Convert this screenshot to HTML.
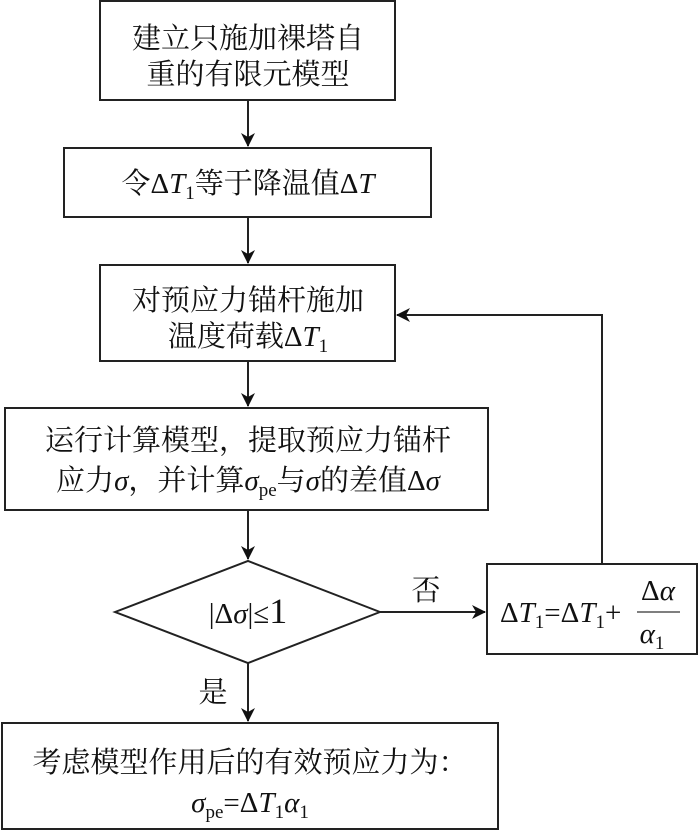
<!DOCTYPE html>
<html><head><meta charset="utf-8"><style>
html,body{margin:0;padding:0;background:#fff;}
svg{display:block;}
text{font-family:"Liberation Serif","Noto Serif CJK SC",serif;font-size:29px;fill:#111;}
.i{font-style:italic;}
</style></head><body>
<svg width="700" height="831" viewBox="0 0 700 831" xmlns="http://www.w3.org/2000/svg">
<defs><marker id="a" markerWidth="14" markerHeight="14" refX="13" refY="7" orient="auto" markerUnits="userSpaceOnUse"><path d="M0,0 L14,7 L0,14 L4,7 Z" fill="#111"/></marker></defs>
<g fill="none" stroke="#222" stroke-width="2">
<rect x="100" y="1" width="295" height="99"/>
<rect x="64" y="148" width="367" height="69"/>
<rect x="100" y="265" width="295" height="96"/>
<rect x="5" y="408" width="483" height="102"/>
<polygon points="115,612 248,561 380,612 248,663"/>
<rect x="487" y="564" width="210" height="90"/>
<rect x="2" y="723" width="496" height="106"/>
<line x1="248" y1="100" x2="248" y2="146" marker-end="url(#a)"/>
<line x1="248" y1="217" x2="248" y2="263" marker-end="url(#a)"/>
<line x1="248" y1="361" x2="248" y2="406" marker-end="url(#a)"/>
<line x1="248" y1="510" x2="248" y2="559" marker-end="url(#a)"/>
<line x1="248" y1="663" x2="248" y2="721" marker-end="url(#a)"/>
<line x1="380" y1="612" x2="485" y2="612" marker-end="url(#a)"/>
<polyline points="602,564 602,315 397,315" marker-end="url(#a)"/>
</g>
<text x="248" y="48" text-anchor="middle">建立只施加裸塔自</text>
<text x="248" y="84" text-anchor="middle">重的有限元模型</text>
<text x="248" y="193" text-anchor="middle">令Δ<tspan class="i">T</tspan><tspan font-size="19" dy="6">1</tspan><tspan dy="-6">等于降温值Δ</tspan><tspan class="i">T</tspan></text>
<text x="248" y="310" text-anchor="middle">对预应力锚杆施加</text>
<text x="248" y="346" text-anchor="middle">温度荷载Δ<tspan class="i">T</tspan><tspan font-size="19" dy="6">1</tspan></text>
<text x="248" y="450" text-anchor="middle">运行计算模型，提取预应力锚杆</text>
<text x="248" y="490" text-anchor="middle">应力<tspan class="i">σ</tspan>，并计算<tspan class="i">σ</tspan><tspan font-size="19" dy="6">pe</tspan><tspan dy="-6">与</tspan><tspan class="i">σ</tspan>的差值Δ<tspan class="i">σ</tspan></text>
<text x="248" y="623" text-anchor="middle">|Δ<tspan class="i">σ</tspan>|≤<tspan font-size="36">1</tspan></text>
<text x="426" y="600" text-anchor="middle" font-size="26">否</text>
<text x="213" y="702" text-anchor="middle" font-size="26">是</text>
<text x="500" y="622">Δ<tspan class="i">T</tspan><tspan font-size="19" dy="6">1</tspan><tspan dy="-6">=Δ</tspan><tspan class="i">T</tspan><tspan font-size="19" dy="6">1</tspan><tspan dy="-6">+</tspan></text>
<line x1="637" y1="612" x2="680" y2="612" stroke="#555" stroke-width="1.5"/>
<text x="658" y="600" text-anchor="middle">Δ<tspan class="i">α</tspan></text>
<text x="652" y="643" text-anchor="middle"><tspan class="i">α</tspan><tspan font-size="19" dy="6">1</tspan></text>
<text x="250" y="772" text-anchor="middle">考虑模型作用后的有效预应力为：</text>
<text x="250" y="812" text-anchor="middle"><tspan class="i">σ</tspan><tspan font-size="19" dy="6">pe</tspan><tspan dy="-6">=Δ</tspan><tspan class="i">T</tspan><tspan font-size="19" dy="6">1</tspan><tspan class="i" dy="-6">α</tspan><tspan font-size="19" dy="6">1</tspan></text>
</svg>
</body></html>
